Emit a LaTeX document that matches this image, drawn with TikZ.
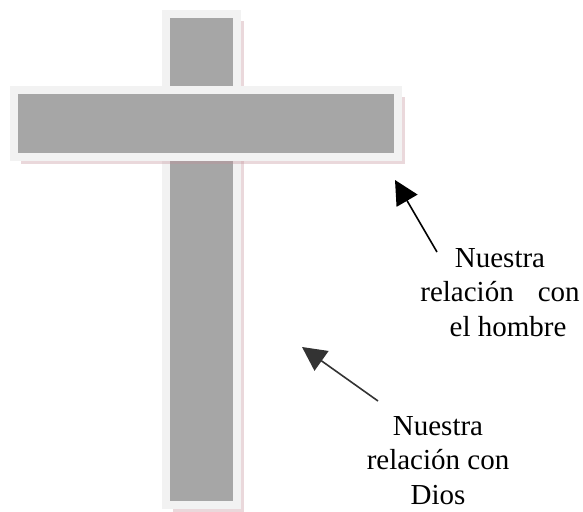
\documentclass[tikz,border=0pt]{standalone}
\usepackage{fontspec}
\setmainfont{Liberation Serif}
\usetikzlibrary{arrows.meta,shadows}

\definecolor{barfill}{HTML}{A6A6A6}
\definecolor{barframe}{HTML}{F2F2F2}
\definecolor{barshadow}{HTML}{C29098}

\begin{document}
\begin{tikzpicture}[
  x=1pt, y=-1pt,
  crossbar/.style={
    draw=barframe,
    fill=barfill,
    line width=8pt,
    inner sep=0pt,
    drop shadow={shadow xshift=7pt, shadow yshift=-7pt,
      fill=barshadow, opacity=.35}
  },
  label text/.style={
    align=center,
    inner sep=0pt,
    font=\fontsize{29}{34.5}\selectfont
  },
  pointer/.style={
    line width=1.6pt,
    -{Triangle[length=24pt,width=24pt]}
  },
]
\useasboundingbox (0,0) rectangle (583,511);

% the cross
\node[crossbar, minimum width=71pt, minimum height=491pt] (upright) at (201.5,259.5) {};
\node[crossbar, minimum width=384pt, minimum height=67pt] (beam) at (206,123.5) {};

% labels (base = last line)
\node[label text, anchor=base] (hombre) at (500,336)
  {Nuestra\\relación\hspace{24pt}con\\\hspace{16pt}el hombre};
\node[label text, anchor=base] (dios) at (438,504)
  {Nuestra\\relación con\\Dios};

% arrows
\coordinate (hombre tail) at (437,252);
\coordinate (hombre tip) at (395,180);
\coordinate (dios tail) at (378,401);
\coordinate (dios tip) at (302,347);

\draw[pointer, black] (hombre tail) -- (hombre tip);
\draw[pointer, black!80] (dios tail) -- (dios tip);
\end{tikzpicture}
\end{document}
